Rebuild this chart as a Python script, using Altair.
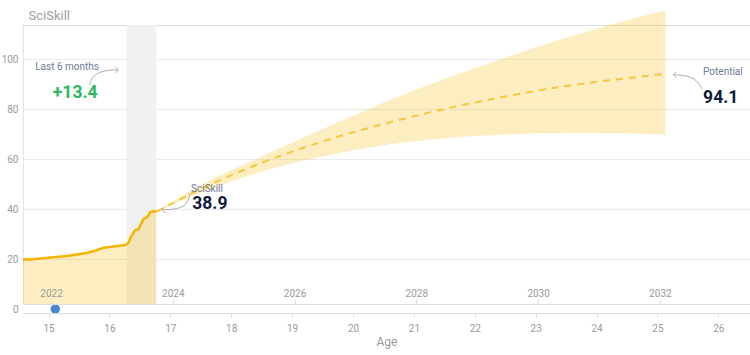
import altair as alt
import pandas as pd

# ---------------- data ----------------
actual_age = [14.58, 14.64, 14.70, 15.03, 15.30, 15.63, 15.79, 15.90, 16.07, 16.26, 16.31,
              16.35, 16.42, 16.48, 16.51, 16.56, 16.62, 16.67, 16.72, 16.77]
actual_val = [19.7, 19.9, 19.8, 20.6, 21.2, 22.4, 23.5, 24.5, 25.0, 25.6, 26.4,
              28.8, 31.5, 32.0, 33.7, 36.0, 36.8, 38.7, 39.2, 38.9]

proj_age = [16.77, 17.5, 18.5, 19.5, 20.5, 21.5, 22.5, 23.5, 24.5, 25.13]
proj_mid = [38.9, 48.0, 58.5, 67.0, 74.0, 80.0, 85.0, 89.2, 92.3, 94.1]
proj_hi = [38.9, 49.5, 61.0, 72.0, 82.5, 92.0, 100.5, 108.5, 115.5, 119.4]
proj_lo = [38.9, 46.5, 55.0, 61.0, 65.5, 68.3, 69.8, 70.4, 70.2, 69.7]

last6_start = [16.28]
last6_end = [16.77]

age_ticks = list(range(15, 27))
year_ticks = [2022, 2024, 2026, 2028, 2030, 2032]
y_ticks = [0, 20, 40, 60, 80, 100]

dot_year = [2022.07]
dot_val = [0]

label_text = ["Last 6 months", "SciSkill", "Potential"]
label_age = [14.78, 17.34, 25.75]
label_val = [96.9, 48.0, 94.9]

value_text = ["+13.4", "38.9", "94.1"]
value_color = ["#2cb85c", "#101c3a", "#101c3a"]
value_age = [15.07, 17.36, 25.75]
value_val = [86.4, 42.0, 84.5]

arrow_grp = ["a", "a", "a", "a", "a", "b", "b", "b", "b", "c", "c", "c", "c"]
arrow_ord = [0, 1, 2, 3, 4, 0, 1, 2, 3, 0, 1, 2, 3]
arrow_age = [15.668, 15.718, 15.849, 16.013, 16.145,
             17.327, 17.277, 17.113, 16.867,
             25.729, 25.647, 25.483, 25.263]
arrow_val = [89.7, 92.9, 94.9, 95.7, 95.6,
             46.4, 41.7, 39.9, 39.7,
             88.0, 91.7, 93.4, 93.7]
head_age = [16.145, 16.862, 25.262]
head_val = [95.6, 39.7, 93.7]
head_angle = [0, 180, 180]

AGE_DOMAIN = [14.58, 26.52]
YEAR_OFFSET = 2006.96
Y_DOMAIN = [-1.6, 113.6]
STRIP_TOP = 2

FONT = "Roboto"
GREY = "#9a9a9a"

# ---------------- frames ----------------
actual_df = pd.DataFrame({"age": actual_age, "val": actual_val})
proj_df = pd.DataFrame({"age": proj_age, "val": proj_mid, "lo": proj_lo, "hi": proj_hi})
last6_df = pd.DataFrame({"age": last6_start, "age2": last6_end,
                         "val": [Y_DOMAIN[0]], "val2": [Y_DOMAIN[1]]})
strip_df = pd.DataFrame({"age": [AGE_DOMAIN[0]], "age2": [AGE_DOMAIN[1]],
                         "val": [Y_DOMAIN[0]], "val2": [STRIP_TOP]})
dot_df = pd.DataFrame({"year": dot_year, "val": dot_val})
label_df = pd.DataFrame({"age": label_age, "val": label_val, "t": label_text})
value_df = pd.DataFrame({"age": value_age, "val": value_val, "t": value_text, "c": value_color})
arrow_df = pd.DataFrame({"age": arrow_age, "val": arrow_val, "g": arrow_grp, "o": arrow_ord})
head_df = pd.DataFrame({"age": head_age, "val": head_val, "a": head_angle})

age_scale = alt.Scale(domain=AGE_DOMAIN, nice=False, zero=False)
y_scale = alt.Scale(domain=Y_DOMAIN, nice=False, zero=False)

X = alt.X("age:Q", scale=age_scale, axis=alt.Axis(
    values=age_ticks, format="d", title="Age", grid=False,
    domainColor="#dddddd", tickColor="#dddddd", tickSize=4,
    labelColor=GREY, labelFontSize=10, labelPadding=6, labelFont=FONT,
    titleColor=GREY, titleFontSize=12, titleFontWeight="normal", titlePadding=3,
    titleFont=FONT, zindex=1))
Y = alt.Y("val:Q", scale=y_scale, axis=alt.Axis(
    values=y_ticks, grid=True, gridColor="#ebebeb",
    domainColor="#e4e4e4", ticks=False, labelColor=GREY, labelFontSize=10,
    labelPadding=5, labelFont=FONT,
    title="SciSkill", titleAngle=0, titleX=5, titleY=-10, titleAlign="left",
    titleBaseline="middle", titleFontSize=13, titleColor="#a0a0a0",
    titleFontWeight="normal", titleFont=FONT))

gray_band = alt.Chart(last6_df).mark_rect(color="#f1f1f1").encode(
    x=X, x2="age2:Q", y=Y, y2="val2:Q")

proj_band = alt.Chart(proj_df).mark_area(color="#f7c21a", opacity=0.27, interpolate="monotone").encode(
    x=X, y=alt.Y("lo:Q", scale=y_scale), y2="hi:Q")

actual_area = alt.Chart(actual_df).mark_area(color="#f7c21a", opacity=0.27).encode(
    x=X, y=Y, y2=alt.datum(0))

actual_line = alt.Chart(actual_df).mark_line(color="#f5b400", strokeWidth=2.5).encode(x=X, y=Y)

proj_line = alt.Chart(proj_df).mark_line(color="#f6c63c", strokeWidth=2, strokeDash=[7, 6],
                                         interpolate="monotone").encode(x=X, y=Y)

strip = alt.Chart(strip_df).mark_rect(color="white").encode(x=X, x2="age2:Q", y=Y, y2="val2:Q")

arrows = alt.Chart(arrow_df).mark_line(color="#aaaaaa", strokeWidth=1, interpolate="basis").encode(
    x=X, y=Y, detail="g:N", order="o:Q")

heads = alt.Chart(head_df).mark_point(shape="M -1 -1 L 0 0 L -1 1", filled=False, color="#aaaaaa",
                                      strokeWidth=1, size=40, opacity=1).encode(
    x=X, y=Y, angle=alt.Angle("a:Q", scale=None))

labels = alt.Chart(label_df).mark_text(align="left", baseline="middle", font=FONT, fontSize=10,
                                       color="#6d7c93").encode(x=X, y=Y, text="t:N")

values = alt.Chart(value_df).mark_text(align="left", baseline="middle", font=FONT, fontWeight="bold",
                                       fontSize=17.5).encode(
    x=X, y=Y, text="t:N", color=alt.Color("c:N", scale=None))

year_layer = alt.Chart(dot_df).mark_circle(color="#4a86d0", size=90, opacity=1).encode(
    x=alt.X("year:Q",
            scale=alt.Scale(domain=[AGE_DOMAIN[0] + YEAR_OFFSET, AGE_DOMAIN[1] + YEAR_OFFSET],
                            nice=False, zero=False),
            axis=alt.Axis(orient="top", offset=-279, values=year_ticks, format="d", title=None,
                          grid=False, domainColor="#dddddd", tickColor="#dddddd", tickSize=5,
                          labelColor=GREY, labelFontSize=10, labelPadding=1, labelFont=FONT,
                          zindex=1)),
    y=Y)

main = alt.layer(gray_band, proj_band, actual_area, actual_line, proj_line, strip,
                 arrows, heads, labels, values)

chart = alt.layer(main, year_layer).resolve_scale(x="independent").properties(
    width=727, height=288,
    autosize=alt.AutoSizeParams(type="none"),
    padding={"left": 23, "top": 25, "right": 0, "bottom": 42},
).configure_view(stroke=None).configure(background="white")

chart.save("out.html", embed_options={"renderer": "svg", "actions": False})
